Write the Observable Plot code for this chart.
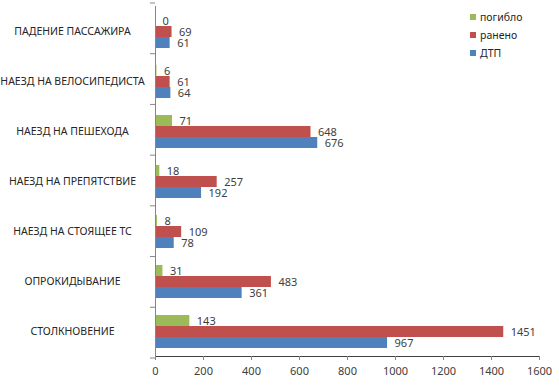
<!DOCTYPE html>
<html>
<head>
<meta charset="utf-8">
<script src="https://cdn.jsdelivr.net/npm/d3@7"></script>
<script src="https://cdn.jsdelivr.net/npm/@observablehq/plot@0.6"></script>
<style>
  html, body { margin: 0; padding: 0; background: #fff; }
  #wrap { position: relative; width: 559px; height: 392px; font-family: "Noto Sans", sans-serif; }
  #legend { position: absolute; left: 470px; top: 8px; font-size: 10.5px; color: #262626; }
  #legend div { height: 18px; line-height: 14px; display: flex; align-items: center; }
  #legend span.sw { display: inline-block; width: 6px; height: 6px; margin-right: 4px; }
</style>
</head>
<body>
<div id="wrap"><div id="legend"></div></div>
<script>
const categories = [
  "ПАДЕНИЕ ПАССАЖИРА",
  "НАЕЗД НА ВЕЛОСИПЕДИСТА",
  "НАЕЗД НА ПЕШЕХОДА",
  "НАЕЗД НА ПРЕПЯТСТВИЕ",
  "НАЕЗД НА СТОЯЩЕЕ ТС",
  "ОПРОКИДЫВАНИЕ",
  "СТОЛКНОВЕНИЕ"
];
const seriesNames = ["погибло", "ранено", "ДТП"];
const killed  = [0, 6, 71, 18, 8, 31, 143];
const injured = [69, 61, 648, 257, 109, 483, 1451];
const crashes = [61, 64, 676, 192, 78, 361, 967];
const seriesColors = ["#9BBB59", "#C0504D", "#4F81BD"];
const xTicks = [0, 200, 400, 600, 800, 1000, 1200, 1400, 1600];

const seriesValues = [killed, injured, crashes];
const rows = [];
categories.forEach((c, i) => {
  seriesNames.forEach((s, j) => rows.push({category: c, series: s, value: seriesValues[j][i]}));
});

const plot = Plot.plot({
  width: 559,
  height: 392,
  marginLeft: 155,
  marginRight: 20,
  marginTop: 3,
  marginBottom: 34,
  style: {fontFamily: "Noto Sans, sans-serif", fontSize: "11px", color: "#404040", background: "#fff"},
  x: {domain: [0, 1600], ticks: xTicks, tickFormat: d => String(d), tickSize: 4, tickPadding: 7, label: null, line: true},
  y: {domain: seriesNames, paddingInner: 0, paddingOuter: 0.75, axis: null},
  fy: {domain: categories, padding: 0, axis: null},
  color: {domain: seriesNames, range: seriesColors},
  marks: [
    Plot.barX(rows, {fy: "category", y: "series", x: "value", fill: "series"}),
    Plot.text(rows, {fy: "category", y: "series", x: "value", text: d => String(d.value), dx: 7, textAnchor: "start", fill: "#404040", fontSize: 11}),
    Plot.text(categories, {fy: d => d, text: d => d, frameAnchor: "left", dx: -83, textAnchor: "middle", fill: "#262626", fontSize: 10.5}),
    Plot.ruleX([0], {stroke: "#868686"})
  ]
});

document.getElementById("wrap").prepend(plot);

// x-axis line / tick color
d3.select(plot).selectAll("[aria-label='x-axis tick'] path, [aria-label='x-axis'] path").attr("stroke", "#868686");

// category boundary ticks (Excel style) drawn from Plot's fy scale
const fyS = plot.scale("fy");
const r = fyS.range;
const n = categories.length;
const step = (r[1] - r[0]) / n;
const bounds = d3.range(n + 1).map(i => r[0] + i * step);
const x0 = plot.scale("x").apply ? plot.scale("x").apply(0) : 155;
d3.select(plot).append("g").attr("stroke", "#868686")
  .selectAll("line").data(bounds).join("line")
  .attr("x1", x0 - 5).attr("x2", x0).attr("y1", d => d).attr("y2", d => d);

// legend
const lg = d3.select("#legend");
seriesNames.forEach((s, j) => {
  const row = lg.append("div");
  row.append("span").attr("class", "sw").style("background", seriesColors[j]);
  row.append("span").text(s);
});
</script>
</body>
</html>
